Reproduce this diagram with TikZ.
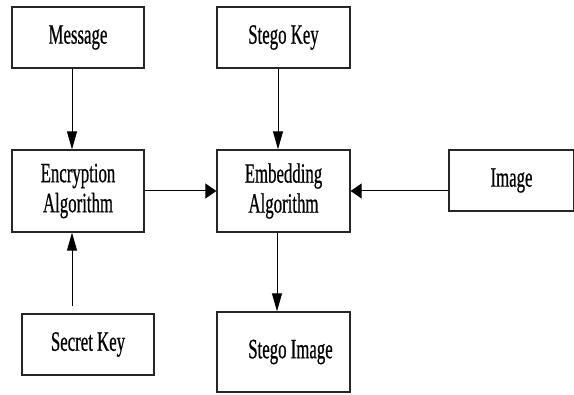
\documentclass[tikz,border=0pt]{standalone}
\usepackage{fontspec}
\setmainfont[FakeStretch=0.6, FakeBold=0.6]{Liberation Serif}
\usetikzlibrary{arrows.meta}

\begin{document}
\begin{tikzpicture}[x=1pt, y=-1pt,
    block/.style={draw=black!85, line width=1.3pt, inner sep=0pt, align=center,
                  font=\fontsize{28}{30}\selectfont},
    vflow/.style={-{Triangle[length=18pt, width=10pt]}, line width=1pt},
    hflow/.style={-{Triangle[length=11pt, width=15pt]}, line width=1pt}]
                \useasboundingbox (0,0) rectangle (574,395);
                % top row
                \node[block, minimum width=132pt, minimum height=61pt] (msg) at (78,37.5) {Message};
                \node[block, minimum width=133pt, minimum height=61pt] (skey) at (283.5,37.5) {Stego Key};
                % middle row
                \node[block, minimum width=132pt, minimum height=82pt] (enc) at (78,191) {Encryption\\Algorithm};
                \node[block, minimum width=133pt, minimum height=82pt] (emb) at (283.5,191) {Embedding\\Algorithm};
                \node[block, minimum width=125pt, minimum height=61pt] (img) at (511.5,180.5) {Image};
                % bottom row
                \node[block, minimum width=132pt, minimum height=61pt] (sec) at (88,344.5) {Secret Key};
                \node[block, minimum width=133pt, minimum height=80pt] (simg) at (283.5,352) {\hspace{14pt}Stego Image};
                \draw[vflow] ([xshift=-6pt]msg.south) -- ([xshift=-6pt]enc.north);
                \draw[vflow] ([xshift=-5.5pt]skey.south) -- ([xshift=-5.5pt]emb.north);
                \draw[hflow] (enc.east) -- (emb.west);
                \draw[hflow] ([yshift=-10.5pt]img.west) -- (emb.east);
                \draw[vflow, shorten <=7pt] ([xshift=-16pt]sec.north) -- ([xshift=-6pt]enc.south);
                \draw[vflow] ([xshift=-6.5pt]emb.south) -- ([xshift=-6.5pt]simg.north);
            \end{tikzpicture}
\end{document}
